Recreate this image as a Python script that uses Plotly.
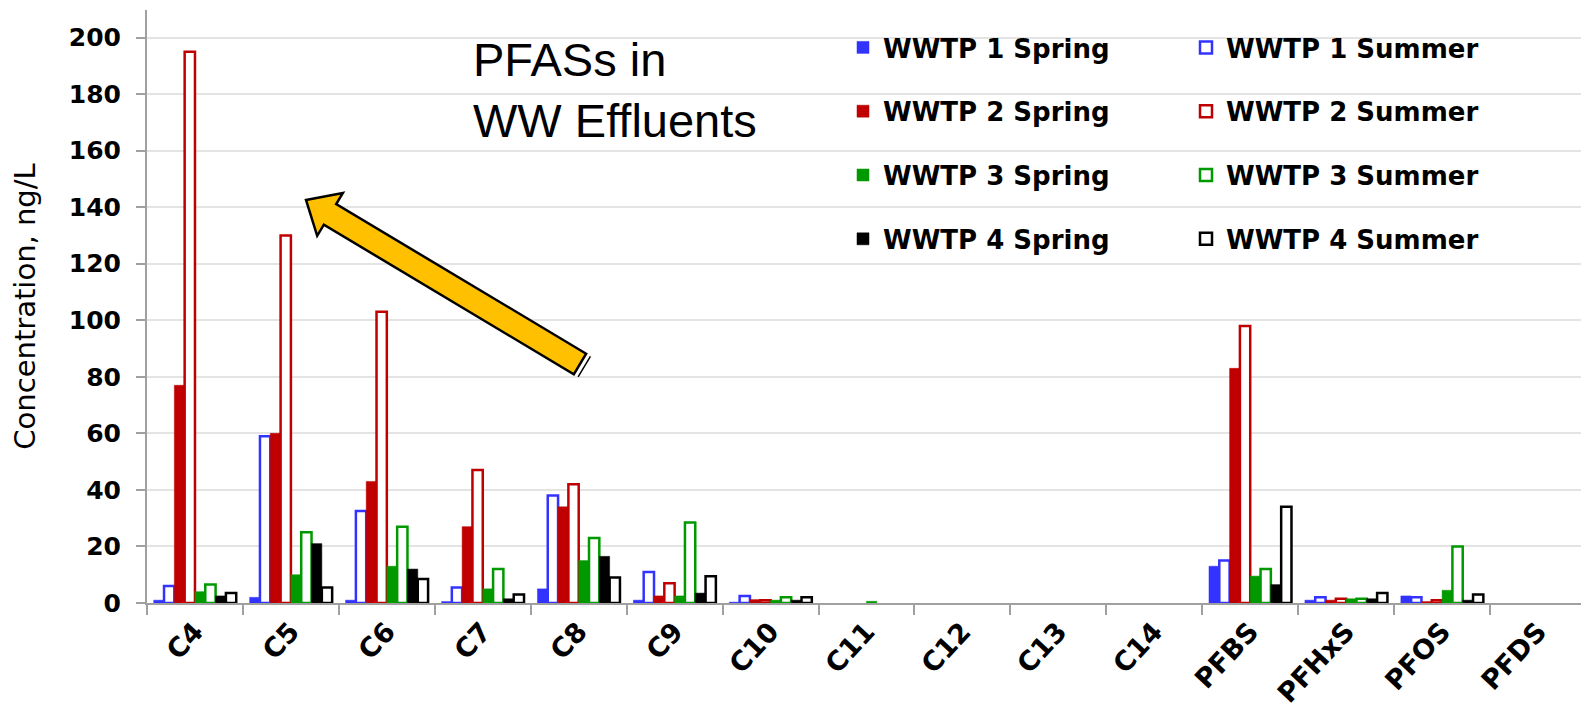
import math
import plotly.graph_objects as go

categories = ["C4", "C5", "C6", "C7", "C8", "C9", "C10", "C11", "C12", "C13", "C14",
              "PFBS", "PFHxS", "PFOS", "PFDS"]

N = None
wwtp1_spring = [1, 2, 1, 0.5, 5, 1, 0.3, N, N, N, N, 13, 1, 2.5, N]
wwtp1_summer = [6, 59, 32.5, 5.5, 38, 11, 2.5, N, N, N, N, 15, 2, 2, N]
wwtp2_spring = [77, 60, 43, 27, 34, 2.5, 1.2, N, N, N, N, 83, 1, 0.5, N]
wwtp2_summer = [195, 130, 103, 47, 42, 7, 1, N, N, N, N, 98, 1.5, 1, N]
wwtp3_spring = [4, 10, 13, 5, 15, 2.5, 1, 0.6, N, N, N, 9.5, 1.5, 4.5, N]
wwtp3_summer = [6.5, 25, 27, 12, 23, 28.5, 2, N, N, N, N, 12, 1.5, 20, N]
wwtp4_spring = [2.5, 21, 12, 1.5, 16.5, 3.5, 1, N, N, N, N, 6.5, 1.5, 1, N]
wwtp4_summer = [3.5, 5.5, 8.5, 3, 9, 9.5, 2, N, N, N, N, 34, 3.5, 3, N]

y_ticks = [0, 20, 40, 60, 80, 100, 120, 140, 160, 180, 200]

BLUE = "#3333FF"
RED = "#C00000"
GREEN = "#009900"
BLACK = "#000000"

series = [
    ("WWTP 1 Spring", wwtp1_spring, BLUE, False),
    ("WWTP 1 Summer", wwtp1_summer, BLUE, True),
    ("WWTP 2 Spring", wwtp2_spring, RED, False),
    ("WWTP 2 Summer", wwtp2_summer, RED, True),
    ("WWTP 3 Spring", wwtp3_spring, GREEN, False),
    ("WWTP 3 Summer", wwtp3_summer, GREEN, True),
    ("WWTP 4 Spring", wwtp4_spring, BLACK, False),
    ("WWTP 4 Summer", wwtp4_summer, BLACK, True),
]

# the page body has an 8px margin; figure fills the rest of the window
OFF = 8
W, H = 1589 - OFF, 713 - OFF
ML, MR, MT, MB = 139, 3, 2, 110
PW, PH = W - ML - MR, H - MT - MB
YMAX = (PH) / ((595 - 29.5) / 200.0)

fig = go.Figure()
for name, vals, col, hollow in series:
    fig.add_trace(go.Bar(
        x=categories, y=vals, name=name,
        marker=dict(color="white" if hollow else col,
                    line=dict(color=col, width=2.5 if hollow else 0.5)),
        legend="legend2" if hollow else "legend",
        legendgroup=name,
    ))


def to_paper(px, py):
    """page pixel -> paper coordinates"""
    return ((px - OFF - ML) / PW, (H - MB - (py - OFF)) / PH)


# decorative arrow
tip = (306, 200)
tail = (580, 364)
dx, dy = tip[0] - tail[0], tip[1] - tail[1]
L = math.hypot(dx, dy)
ux, uy = dx / L, dy / L
nx, ny = -uy, ux
sw, hw, hl = 12, 25, 28
bx, by = tip[0] - ux * hl, tip[1] - uy * hl
pts = [
    (tail[0] + nx * sw, tail[1] + ny * sw),
    (bx + nx * sw, by + ny * sw),
    (bx + nx * hw, by + ny * hw),
    tip,
    (bx - nx * hw, by - ny * hw),
    (bx - nx * sw, by - ny * sw),
    (tail[0] - nx * sw, tail[1] - ny * sw),
]
path = "M " + " L ".join(f"{to_paper(*p)[0]:.5f},{to_paper(*p)[1]:.5f}" for p in pts) + " Z"
fig.add_shape(type="path", path=path, xref="paper", yref="paper",
              fillcolor="#FFC000", line=dict(color="black", width=2.5), layer="above")
t2 = (tail[0] - ux * 5, tail[1] - uy * 5)
a = to_paper(t2[0] + nx * sw, t2[1] + ny * sw)
b = to_paper(t2[0] - nx * sw, t2[1] - ny * sw)
fig.add_shape(type="line", xref="paper", yref="paper", x0=a[0], y0=a[1], x1=b[0], y1=b[1],
              line=dict(color="black", width=1.5), layer="above")

ax, ay = to_paper(471, 31)
fig.add_annotation(text="PFASs in<br>WW Effluents", xref="paper", yref="paper",
                   x=ax, y=ay, xanchor="left", yanchor="top",
                   align="left", showarrow=False,
                   font=dict(family="Liberation Sans, Arial", size=47, color="black"))

legend_font = dict(family="DejaVu Sans", size=26, color="black", weight="bold")
l1x, l1y = to_paper(843, 24)
l2x, _ = to_paper(1186, 24)
fig.update_layout(
    width=W, height=H,
    margin=dict(l=ML, r=MR, t=MT, b=MB),
    plot_bgcolor="white", paper_bgcolor="white",
    barmode="group", bargap=0.14, bargroupgap=0.0,
    font=dict(family="Liberation Sans, Arial", color="black"),
    legend=dict(x=l1x, y=l1y, xanchor="left", yanchor="top",
                bgcolor="rgba(0,0,0,0)", font=legend_font, tracegroupgap=27,
                itemwidth=30, traceorder="grouped"),
    legend2=dict(x=l2x, y=l1y, xanchor="left", yanchor="top",
                 bgcolor="rgba(0,0,0,0)", font=legend_font, tracegroupgap=27,
                 itemwidth=30, traceorder="grouped"),
    xaxis=dict(
        type="category", tickangle=-47, tickson="boundaries",
        ticks="outside", ticklen=10, tickcolor="#a0a0a0", tickwidth=1.5,
        showline=True, linecolor="#a0a0a0", linewidth=2,
        tickfont=dict(family="DejaVu Sans", size=27, color="black", weight="bold"),
        showgrid=False, automargin=False,
    ),
    yaxis=dict(
        range=[0, YMAX], tickvals=y_ticks,
        ticks="outside", ticklen=9, tickcolor="#a0a0a0", tickwidth=1.5,
        showline=True, linecolor="#a0a0a0", linewidth=2,
        showgrid=True, gridcolor="#e4e4e4", gridwidth=2,
        zeroline=False, automargin=False, ticklabelstandoff=10,
        tickfont=dict(family="DejaVu Sans", size=25, color="black", weight="bold"),
        title=dict(text="Concentration, ng/L", standoff=25,
                   font=dict(family="DejaVu Sans", size=29, color="black")),
    ),
)

fig.write_html("out.html")
